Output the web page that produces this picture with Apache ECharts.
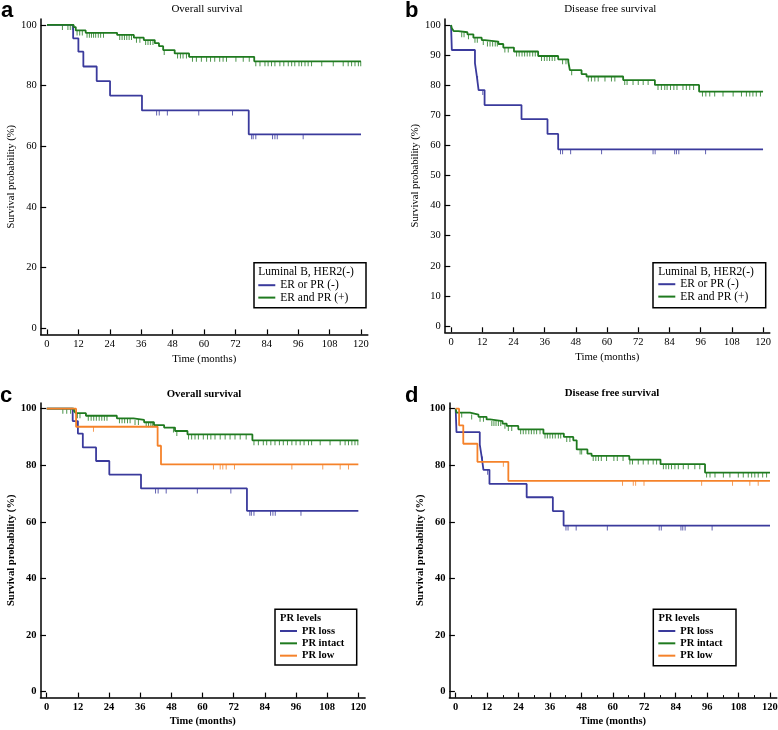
<!DOCTYPE html>
<html>
<head>
<meta charset="utf-8">
<script src="https://cdn.jsdelivr.net/npm/echarts@6/dist/echarts.min.js"></script>
<style>
html, body { margin: 0; padding: 0; background: #fff; }
#main { width: 778px; height: 730px; }
</style>
</head>
<body>
<div id="main"></div>
<script>
// tick values
var xTicks = [0, 12, 24, 36, 48, 60, 72, 84, 96, 108, 120];
var xMinorTicks = [6, 18, 30, 42, 54, 66, 78, 90, 102, 114];
var yTicks20 = [0, 20, 40, 60, 80, 100];
var yTicks10 = [0, 10, 20, 30, 40, 50, 60, 70, 80, 90, 100];

// Kaplan-Meier steps: time of each drop (months) and survival (%) after it
// overall survival, ER or PR (-) / PR loss
var osNegT = [0, 10.0, 12.0, 13.9, 19.0, 24.1, 36.3, 77.1, 120];
var osNegS = [100, 95.6, 91.2, 86.3, 81.5, 76.7, 71.8, 63.9, 63.9];
var osNegCens = [41.9, 42.9, 46.0, 58.0, 70.9, 78.2, 78.8, 79.8, 86.2, 87.1, 88.0, 97.9];

// overall survival, ER and PR (+)
var osPosT = [0, 10.2, 11.0, 14.8, 26.8, 33.2, 37.0, 41.2, 42.8, 44.4, 48.8, 54.3, 79.2, 120];
var osPosS = [100, 99.3, 98.2, 97.4, 96.7, 95.8, 95.0, 94.0, 93.0, 91.7, 90.6, 89.5, 88.0, 88.0];
var osPosCens = [5.9, 8.0, 8.9, 9.7, 11.5, 12.5, 13.5, 15.3, 16.2, 17.0, 17.8, 18.6, 19.6, 20.5, 21.6,
  27.8, 28.7, 29.6, 30.5, 31.4, 32.3, 34.2, 35.5, 37.7, 38.6, 39.5, 40.5, 44.8, 49.9, 51.0, 52.0, 53.3,
  55.6, 57.1, 59.0, 61.0, 62.5, 64.1, 66.0, 67.3, 68.6, 72.2, 75.0, 77.3, 79.8, 81.4, 83.3, 84.5, 85.8,
  87.1, 89.0, 90.5, 92.2, 93.5, 94.7, 96.3, 97.3, 98.6, 99.8, 101.1, 105.0, 109.4, 113.2, 115.1, 116.4,
  117.7, 119.0, 119.9];

// disease free survival, ER or PR (-) / PR loss
var dfsNegT = [0, 0.3, 9.2, 9.9, 10.6, 12.9, 27.1, 37.1, 41.2, 120];
var dfsNegS = [100, 91.7, 87.3, 83.1, 78.4, 73.4, 68.7, 63.8, 58.7, 58.7];
var dfsNegCens = [10.2, 12.2, 42.1, 42.9, 46.0, 57.9, 77.7, 78.5, 86.0, 86.7, 87.6, 97.9];

// disease free survival, ER and PR (+)
var dfsPosT = [0, 0.3, 1.0, 2.8, 6.3, 8.6, 11.8, 13.0, 18.2, 20.1, 24.2, 33.5, 41.2, 45.1, 45.7, 50.2, 52.1, 66.2, 78.4, 95.4, 120];
var dfsPosS = [100, 98.9, 98.0, 97.6, 96.9, 95.8, 95.0, 94.5, 93.7, 92.5, 91.2, 89.7, 88.6, 87.8, 85.0, 83.7, 82.9, 81.7, 80.1, 77.9, 77.9];
var dfsPosCens = [4.1, 5.0, 6.7, 9.2, 10.1, 12.4, 14.0, 15.0, 16.0, 17.0, 17.8, 20.7, 22.0,
  25.2, 26.2, 27.3, 28.3, 29.3, 30.3, 31.4, 32.4, 34.8, 35.9, 36.9, 37.9, 38.9, 39.9, 42.9, 44.2, 46.4,
  52.8, 54.0, 55.3, 56.6, 59.2, 61.7, 63.0, 66.8, 67.7, 70.0, 72.0, 73.9, 75.8,
  79.6, 80.9, 82.2, 83.1, 84.4, 85.7, 86.9, 89.2, 90.5, 91.8, 93.3,
  96.7, 98.0, 99.5, 101.4, 104.6, 108.5, 111.7, 113.6, 114.9, 116.1, 117.4, 119.0];

// overall survival, PR intact
var osIntT = [0, 10.5, 11.2, 15.1, 27.0, 33.4, 37.5, 41.3, 45.2, 49.4, 54.2, 79.2, 120];
var osIntS = [100, 99.2, 98.4, 97.5, 96.6, 96.0, 95.2, 94.2, 93.3, 92.1, 90.9, 88.8, 88.8];
var osIntCens = [6.2, 7.7, 9.2, 11.8, 12.8, 16.0, 17.1, 18.1, 19.1, 20.2, 21.2, 22.2, 23.2,
  28.0, 29.0, 30.0, 31.1, 32.1, 34.0, 35.3, 38.3, 39.2, 40.1, 40.8, 48.8, 50.1,
  54.6, 55.8, 57.1, 58.4, 60.3, 61.9, 63.2, 64.8, 66.8, 68.7, 70.6, 72.5, 74.5, 76.8,
  79.8, 81.5, 83.4, 84.7, 86.3, 87.9, 89.6, 91.1, 92.7, 94.4, 96.0, 97.6, 99.1, 100.8, 102.0,
  105.3, 109.1, 113.0, 114.9, 116.2, 117.5, 118.7, 119.8];

// overall survival, PR low
var osLowT = [0, 11.3, 42.7, 44.0, 120];
var osLowS = [100, 93.6, 86.9, 80.3, 80.3];
var osLowCens = [18.0, 64.2, 66.8, 67.8, 69.1, 72.3, 94.4, 106.3, 113.0, 116.2];

// disease free survival, PR intact
var dfsIntT = [0, 0.3, 5.5, 8.7, 11.8, 13.1, 17.9, 19.5, 23.9, 33.5, 41.3, 44.9, 46.2, 50.3, 51.9, 66.3, 78.2, 95.2, 120];
var dfsIntS = [100, 98.6, 97.9, 97.1, 96.2, 95.6, 94.7, 93.9, 92.7, 91.2, 90.0, 88.8, 85.6, 84.1, 83.3, 82.0, 80.4, 77.4, 77.4];
var dfsIntCens = [2.3, 6.1, 9.3, 10.6, 13.8, 14.6, 15.4, 16.3, 17.2, 18.8, 20.1, 21.4,
  24.8, 25.8, 26.8, 27.9, 28.9, 29.9, 30.9, 32.2, 34.1, 35.0, 36.0, 37.0, 38.0, 39.2, 40.1, 42.4, 43.6,
  47.5, 48.1, 52.5, 53.5, 54.5, 55.6, 57.6, 60.4, 61.7, 63.9, 66.5, 67.5, 69.7, 71.6, 73.5, 75.4, 76.7,
  79.3, 80.3, 81.3, 82.4, 83.7, 85.0, 86.9, 88.8, 91.3, 93.2,
  95.8, 97.1, 99.0, 102.2, 104.7, 107.9, 109.8, 111.7, 113.0, 114.2, 115.5, 117.2, 118.7];

// disease free survival, PR low
var dfsLowT = [0, 1.3, 2.9, 8.3, 20.1, 120];
var dfsLowS = [100, 94.1, 87.6, 81.2, 74.5, 74.5];
var dfsLowCens = [18.2, 63.7, 67.8, 68.7, 71.9, 93.9, 105.7, 112.3, 115.5];

var BLUE = '#3a3a9c', GREEN = '#1f7a1f', ORANGE = '#f5822a';
var SERIF = '"Liberation Serif", "Times New Roman", serif';

var panels = [
  {grid: {left: 40.7, top: 18.9, width: 327.1, height: 315.5}, bold: false, yTicks: yTicks20},
  {grid: {left: 444.8, top: 19, width: 325, height: 313.3}, bold: false, yTicks: yTicks10},
  {grid: {left: 40.5, top: 403, width: 324.6, height: 294.6}, bold: true, yTicks: yTicks20},
  {grid: {left: 449.4, top: 403, width: 327.4, height: 294.6}, bold: true, yTicks: yTicks20}
];

function survAt(T, S, t) {
  var s = S[0];
  for (var i = 0; i < T.length; i++) {
    if (T[i] <= t) s = S[i];
  }
  return s;
}

function curve(gi, name, color, T, S, cens) {
  return [{
    type: 'line', name: name, xAxisIndex: gi, yAxisIndex: gi,
    data: T.map(function (t, i) { return [t, S[i]]; }),
    step: 'end', showSymbol: false, silent: true, z: 3,
    lineStyle: {color: color, width: 1.8},
    itemStyle: {color: color}
  }, {
    type: 'scatter', name: name + ' censored', xAxisIndex: gi, yAxisIndex: gi,
    data: cens.map(function (t) { return [t, survAt(T, S, t)]; }),
    symbol: 'rect', symbolSize: [1, 5], symbolOffset: [0, '50%'],
    silent: true, z: 2,
    itemStyle: {color: color}
  }];
}

var grids = [], xAxes = [], yAxes = [];
panels.forEach(function (p, i) {
  var fw = p.bold ? 'bold' : 'normal';
  grids.push(Object.assign({outerBoundsMode: 'none', containLabel: false}, p.grid));
  xAxes.push({
    type: 'value', gridIndex: i, position: 'bottom', min: -2.4, max: 122.6,
    axisLine: {show: true, onZero: false, lineStyle: {color: '#000', width: 1.5}},
    axisTick: {show: true, inside: true, length: 5, customValues: xTicks, lineStyle: {color: '#000', width: 1.2}},
    axisLabel: {customValues: xTicks, margin: 4, color: '#000', fontFamily: SERIF, fontSize: 10.5, fontWeight: fw},
    splitLine: {show: false},
    name: 'Time (months)', nameLocation: 'middle', nameGap: p.bold ? 18.5 : 19.5,
    nameTextStyle: {color: '#000', fontFamily: SERIF, fontSize: p.bold ? 10.5 : 10.8, fontWeight: fw}
  });
  yAxes.push({
    type: 'value', gridIndex: i, min: -2.1, max: 102,
    axisLine: {show: true, onZero: false, lineStyle: {color: '#000', width: 1.5}},
    axisTick: {show: true, inside: true, length: 5.5, customValues: p.yTicks, lineStyle: {color: '#000', width: 1.2}},
    axisLabel: {customValues: p.yTicks, margin: 4, color: '#000', fontFamily: SERIF, fontSize: 10.5, fontWeight: fw},
    splitLine: {show: false},
    name: 'Survival probability (%)', nameLocation: 'middle', nameGap: 24, nameRotate: 90,
    nameTextStyle: {color: '#000', fontFamily: SERIF, fontSize: 10.6, fontWeight: fw}
  });
});
// minor ticks on panel d time axis
xAxes.push({
  type: 'value', gridIndex: 3, position: 'bottom', offset: 0, min: -2.4, max: 122.6,
  axisLine: {show: false, onZero: false},
  axisTick: {show: true, inside: true, length: 2.5, customValues: xMinorTicks, lineStyle: {color: '#000', width: 1}},
  axisLabel: {show: false}, splitLine: {show: false}
});

var series = [].concat(
  curve(0, 'ER or PR (-)', BLUE, osNegT, osNegS, osNegCens),
  curve(0, 'ER and PR (+)', GREEN, osPosT, osPosS, osPosCens),
  curve(1, 'ER or PR (-)', BLUE, dfsNegT, dfsNegS, dfsNegCens),
  curve(1, 'ER and PR (+)', GREEN, dfsPosT, dfsPosS, dfsPosCens),
  curve(2, 'PR loss', BLUE, osNegT, osNegS, osNegCens),
  curve(2, 'PR intact', GREEN, osIntT, osIntS, osIntCens),
  curve(2, 'PR low', ORANGE, osLowT, osLowS, osLowCens),
  curve(3, 'PR loss', BLUE, dfsNegT, dfsNegS, dfsNegCens),
  curve(3, 'PR intact', GREEN, dfsIntT, dfsIntS, dfsIntCens),
  curve(3, 'PR low', ORANGE, dfsLowT, dfsLowS, dfsLowCens)
);

function legendAt(left, top, names, bold, size, lh) {
  return {
    left: left, top: top, orient: 'vertical', padding: 0, itemGap: 0,
    itemWidth: 17, itemHeight: 2, icon: 'rect', selectedMode: false,
    data: names,
    textStyle: {color: '#000', fontFamily: SERIF, fontSize: size, fontWeight: bold ? 'bold' : 'normal', lineHeight: lh}
  };
}

function txt(text, x, y, font, align) {
  return {type: 'text', silent: true, style: {text: text, x: x, y: y, font: font, fill: '#000',
    textAlign: align || 'left', textVerticalAlign: 'middle'}};
}
function box(x, y, w, h) {
  return {type: 'rect', silent: true, shape: {x: x, y: y, width: w, height: h},
    style: {fill: '#fff', stroke: '#000', lineWidth: 1.5}};
}

var regular = '11px "Liberation Serif"';
var boldT = 'bold 10.8px "Liberation Serif"';
var letter = 'bold 22px "Liberation Sans"';

var option = {
  animation: false,
  backgroundColor: '#fff',
  grid: grids,
  xAxis: xAxes,
  yAxis: yAxes,
  legend: [
    legendAt(258.3, 279, ['ER or PR (-)', 'ER and PR (+)'], false, 11.5, 12.4),
    legendAt(658.3, 278, ['ER or PR (-)', 'ER and PR (+)'], false, 11.5, 12.4),
    legendAt(280, 624.8, ['PR loss', 'PR intact', 'PR low'], true, 10.5, 12.35),
    legendAt(658.3, 624.8, ['PR loss', 'PR intact', 'PR low'], true, 10.5, 12.35)
  ],
  graphic: [
    box(254, 262.7, 112, 45),
    box(653, 262.7, 112.7, 45),
    box(275, 609.3, 81.7, 55.7),
    box(653.3, 609.3, 82.7, 56.4),
    txt('Luminal B, HER2(-)', 258.3, 272.3, '11.5px "Liberation Serif"'),
    txt('Luminal B, HER2(-)', 658.3, 272.3, '11.5px "Liberation Serif"'),
    txt('PR levels', 280, 618.3, 'bold 10.5px "Liberation Serif"'),
    txt('PR levels', 658.5, 618.3, 'bold 10.5px "Liberation Serif"'),
    txt('Overall survival', 207, 9, regular, 'center'),
    txt('Disease free survival', 610.3, 9, regular, 'center'),
    txt('Overall survival', 204, 394, boldT, 'center'),
    txt('Disease free survival', 612, 393.7, boldT, 'center'),
    txt('a', 1, 10.5, letter),
    txt('b', 405, 10.5, letter),
    txt('c', 0, 395.5, letter),
    txt('d', 405, 395.5, letter)
  ],
  series: series
};

var chart = echarts.init(document.getElementById('main'));
chart.setOption(option);
</script>
</body>
</html>
